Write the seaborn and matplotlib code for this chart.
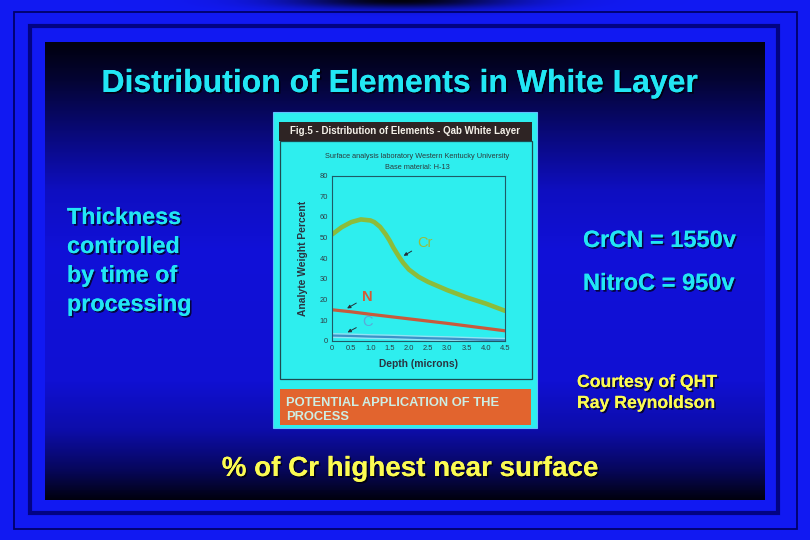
import numpy as np
import matplotlib
matplotlib.use("Agg")
import matplotlib.pyplot as plt
import matplotlib.patheffects as pe
from matplotlib.patches import Rectangle
import seaborn as sns

# readings taken off the embedded figure (depth in microns, weight %)
cr_depth = [0, 0.25, 0.5, 0.75, 1.0, 1.1, 1.25, 1.4, 1.5, 1.6, 1.75, 1.85, 2.0, 2.25, 2.5, 3.0, 3.5, 4.0, 4.5]
cr_pct = [51.5, 55.0, 57.5, 58.8, 58.3, 57.5, 55.2, 51.5, 48.5, 45.0, 40.5, 37.8, 34.5, 31.0, 28.5, 24.5, 21.0, 18.0, 14.5]
n_depth = [0, 0.5, 1.0, 1.5, 2.0, 2.5, 3.0, 3.5, 4.0, 4.5]
n_pct = [15.0, 14.0, 12.8, 11.7, 10.6, 9.5, 8.4, 7.2, 6.0, 4.8]
c_depth = [0, 0.5, 1.0, 1.5, 2.0, 2.5, 3.0, 3.5, 4.0, 4.5]
c_pct = [2.5, 2.3, 2.0, 1.8, 1.5, 1.2, 1.0, 0.7, 0.4, 0.2]

x_ticks = [0, 0.5, 1.0, 1.5, 2.0, 2.5, 3.0, 3.5, 4.0, 4.5]
x_labels = ["0", "0.5", "1.0", "1.5", "2.0", "2.5", "3.0", "3.5", "4.0", "4.5"]
y_ticks = [0, 10, 20, 30, 40, 50, 60, 70, 80]

left_lines = ["Thickness", "controlled", "by time of", "processing"]
right_lines = ["CrCN = 1550v", "NitroC = 950v"]
credit_lines = ["Courtesy of QHT", "Ray Reynoldson"]

sns.set_style("white")
plt.rcParams["font.family"] = ["Liberation Sans", "DejaVu Sans"]

CYAN_TXT = "#22e6f4"
YELLOW = "#fbfb52"
BLUE = np.array([0.07, 0.10, 0.95])

fig = plt.figure(figsize=(8.1, 5.4), dpi=100)

# ---- slide background (pixel coordinates) ----
bg = fig.add_axes([0, 0, 1, 1])
bg.set_xlim(0, 810)
bg.set_ylim(540, 0)
bg.axis("off")

H, W = 540, 810
yy, xx = np.mgrid[0:H, 0:W]
img = np.ones((H, W, 3)) * BLUE
# dark smudge at top centre of outer frame
dark = np.exp(-(((xx - 400) / 110.0) ** 2 + (yy / 8.0) ** 2))
img *= (1 - 0.95 * dark)[..., None]
# inner panel: dark at top and bottom, bright blue in the middle
prof_y = [42, 80, 130, 190, 250, 380, 430, 470, 500]
prof_f = [0.06, 0.22, 0.5, 0.82, 0.92, 0.9, 0.72, 0.38, 0.05]
f = np.interp(np.arange(H), prof_y, prof_f)
panel = np.zeros((H, W, 3))
panel[:] = (f[:, None, None] * np.array([0.07, 0.07, 0.92]))
inside = (xx >= 45) & (xx < 765) & (yy >= 42) & (yy < 500)
img[inside] = panel[inside]
bg.imshow(img, extent=[0, 810, 540, 0], aspect="auto", interpolation="bilinear")

bg.add_patch(Rectangle((13.5, 11.5), 783, 517, fill=False, ec="#00006a", lw=1.3))
bg.add_patch(Rectangle((30, 25.5), 748, 487, fill=False, ec="#000070", lw=3.0, alpha=0.85))

shadow = [pe.withSimplePatchShadow(offset=(1.2, -1.2), shadow_rgbFace="black", alpha=0.7), pe.Normal()]

bg.text(400, 92, "Distribution of Elements in White Layer", color=CYAN_TXT, fontsize=23,
        fontweight="bold", ha="center", va="baseline", path_effects=shadow)
for i, t in enumerate(left_lines):
    bg.text(67, 224 + 29 * i, t, color=CYAN_TXT, fontsize=16.8, fontweight="bold",
            va="baseline", ha="left", path_effects=shadow)
for i, t in enumerate(right_lines):
    bg.text(583, 247 + 43 * i, t, color=CYAN_TXT, fontsize=17, fontweight="bold",
            va="baseline", ha="left", path_effects=shadow)
for i, t in enumerate(credit_lines):
    bg.text(577, 387 + 21 * i, t, color=YELLOW, fontsize=12.7, fontweight="bold",
            va="baseline", ha="left", path_effects=shadow)
bg.text(410, 476, "% of Cr highest near surface", color=YELLOW, fontsize=20, fontweight="bold",
        ha="center", va="baseline", path_effects=shadow)

# ---- embedded figure card ----
PIC = "#2eeeee"
bg.add_patch(Rectangle((273, 112), 264, 316, fc=PIC, ec="#60c0ff", lw=0.8))
bg.add_patch(Rectangle((279, 122), 253, 19, fc="#2e2424", ec="none"))
bg.text(405, 131.5, "Fig.5 - Distribution of Elements - Qab White Layer", color="#f4f0e8",
        fontsize=7.0, fontweight="bold", ha="center", va="center")
bg.add_patch(Rectangle((279.5, 141), 252, 238, fill=False, ec="#1e4a50", lw=0.9))
bg.text(417, 157, "Surface analysis laboratory Western Kentucky University", color="#2c3a3c",
        fontsize=5.3, ha="center", va="center")
bg.text(417, 167.5, "Base material: H-13", color="#2c3a3c", fontsize=5.3, ha="center", va="center")
bg.add_patch(Rectangle((280, 389), 251, 36, fc="#e2642e", ec="none"))
bg.text(286, 406, "POTENTIAL APPLICATION OF THE", color="#cdeee4", fontsize=9.3,
        fontweight="bold", ha="left", va="baseline")
bg.text(286, 419.5, "PROCESS", color="#cdeee4", fontsize=9.3,
        fontweight="bold", ha="left", va="baseline")

# ---- the chart itself ----
ax = fig.add_axes([332 / 810, (540 - 340.7) / 540, 173 / 810, 165 / 540])
ax.set_facecolor(PIC)
sns.lineplot(x=c_depth, y=c_pct, ax=ax, color="#90e4f4", lw=3.6)
sns.lineplot(x=c_depth, y=c_pct, ax=ax, color="#3a92c8", lw=1.6)
sns.lineplot(x=n_depth, y=n_pct, ax=ax, color="#c85a3c", lw=2.3)
sns.lineplot(x=cr_depth, y=cr_pct, ax=ax, color="#8cbc3a", lw=3.3)

ax.set_xlim(0, 4.5)
ax.set_ylim(0, 80)
ax.set_xticks(x_ticks, x_labels)
ax.set_yticks(y_ticks)
ax.tick_params(axis="both", length=0, labelsize=5.4, labelcolor="#2e3c44", pad=3)
for s in ax.spines.values():
    s.set_color("#1e5a66")
    s.set_linewidth(0.8)
ax.set_xlabel("Depth (microns)", fontsize=7.4, fontweight="bold", color="#2a3440", labelpad=5)
ax.set_ylabel("Analyte Weight Percent", fontsize=7.4, fontweight="bold", color="#2a3440", labelpad=8)

arrow = dict(arrowstyle="-|>", color="#243038", lw=0.7, mutation_scale=5)
ax.annotate("Cr", xy=(1.8, 40.5), xytext=(2.22, 47.2), color="#9abc3c", fontsize=10.5,
            va="center", ha="left", arrowprops=arrow)
ax.annotate("N", xy=(0.33, 15.0), xytext=(0.78, 21.3), color="#d45a36", fontsize=10.5,
            fontweight="bold", va="center", ha="left", arrowprops=arrow)
ax.annotate("C", xy=(0.34, 3.4), xytext=(0.78, 9.2), color="#5aa8d8", fontsize=10.5,
            va="center", ha="left", arrowprops=arrow)

fig.savefig("out.png", dpi=100)
